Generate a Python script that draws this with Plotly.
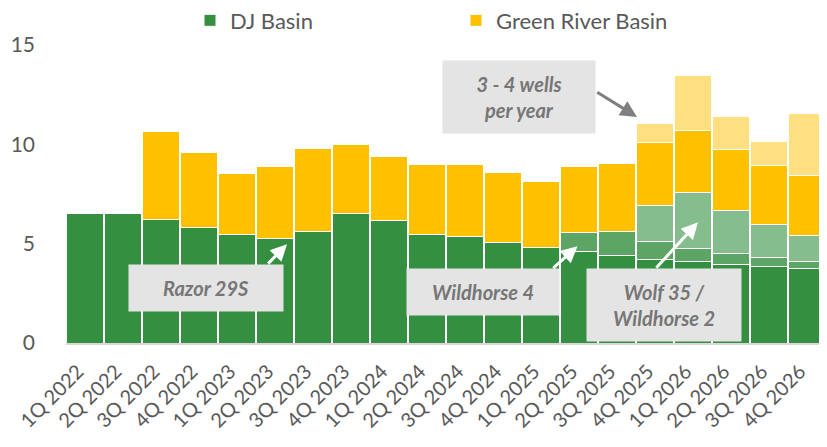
import plotly.graph_objects as go

quarters = ["1Q 2022", "2Q 2022", "3Q 2022", "4Q 2022", "1Q 2023", "2Q 2023", "3Q 2023", "4Q 2023",
            "1Q 2024", "2Q 2024", "3Q 2024", "4Q 2024", "1Q 2025", "2Q 2025", "3Q 2025", "4Q 2025",
            "1Q 2026", "2Q 2026", "3Q 2026", "4Q 2026"]

dj_base = [6.52, 6.52, 6.22, 5.83, 5.44, 5.26, 5.63, 6.53, 6.15, 5.44, 5.38, 5.06, 4.81, 4.61, 4.42, 4.22,
           4.12, 3.97, 3.84, 3.75]
dj_wildhorse4 = [0, 0, 0, 0, 0, 0, 0, 0, 0, 0, 0, 0, 0, 0.97, 1.21, 0.91, 0.64, 0.52, 0.47, 0.34]
dj_wolf35 = [0, 0, 0, 0, 0, 0, 0, 0, 0, 0, 0, 0, 0, 0, 0, 1.79, 2.81, 2.19, 1.65, 1.34]
green_river = [0, 0, 4.42, 3.77, 3.09, 3.63, 4.17, 3.47, 3.26, 3.52, 3.58, 3.52, 3.33, 3.31, 3.40, 3.16,
               3.13, 3.07, 2.95, 2.98]
green_river_new = [0, 0, 0, 0, 0, 0, 0, 0, 0, 0, 0, 0, 0, 0, 0, 0.96, 2.77, 1.66, 1.22, 3.13]

C_DJ = "#348F41"
C_DJ2 = "#5DA565"
C_DJ3 = "#85BD8F"
C_GR = "#FFC000"
C_GR2 = "#FFDF80"
TXT = "#595959"
FONT = "Lato"

fig = go.Figure()
series = [
    ("DJ Basin", dj_base, C_DJ, True),
    ("Wildhorse 4", dj_wildhorse4, C_DJ2, False),
    ("Wolf 35 / Wildhorse 2", dj_wolf35, C_DJ3, False),
    ("Green River Basin", green_river, C_GR, True),
    ("3 - 4 wells per year", green_river_new, C_GR2, False),
]
for name, vals, col, leg in series:
    fig.add_trace(go.Bar(x=quarters, y=vals, name=name, marker=dict(color=col, line=dict(color="white", width=1)),
                         showlegend=leg))

# page offset of the figure (default body margin) and target plot area in page pixels
OFF = 8
PAGE_W, PAGE_H = 827, 447
L, R, T, B = 66, 826, 44.5, 343
W, H = R - L, B - T


def px(x):
    return (x - L) / W


def py(y):
    return (B - y) / H


boxes = [
    ("<b><i>Razor 29S</i></b>", 129, 283, 265, 311),
    ("<b><i>Wildhorse 4</i></b>", 407, 559, 269, 315),
    ("<b><i>Wolf 35 /<br>Wildhorse 2</i></b>", 587, 741, 269, 341),
    ("<b><i>3 - 4 wells<br>per year</i></b>", 443, 595, 61, 133),
]
for text, x0, x1, y0, y1 in boxes:
    fig.add_annotation(text=text, xref="paper", yref="paper", x=px((x0 + x1) / 2), y=py((y0 + y1) / 2),
                       xanchor="center", yanchor="middle", showarrow=False, width=x1 - x0, height=y1 - y0,
                       bgcolor="#E4E4E4", borderpad=0, font=dict(family=FONT, size=20, color="#767676"))

arrows = [
    (266.7, 265, 287, 244, "white"),
    (551.7, 269.3, 577.5, 246, "white"),
    (655, 269, 698, 222, "white"),
    (595.7, 91, 637, 116.5, "#7F7F7F"),
]
for tx, ty, hx, hy, col in arrows:
    fig.add_annotation(text="", xref="paper", yref="paper", x=px(hx), y=py(hy), ax=tx - hx, ay=ty - hy,
                       showarrow=True, arrowhead=2, arrowsize=1.1, arrowwidth=3, arrowcolor=col)

fig.update_layout(
    width=PAGE_W - OFF, height=PAGE_H - OFF,
    margin=dict(l=L - OFF, r=PAGE_W - R, t=T - OFF, b=PAGE_H - B, autoexpand=False),
    barmode="stack", bargap=0.03,
    plot_bgcolor="white", paper_bgcolor="white",
    font=dict(family=FONT, size=21, color=TXT),
    legend=dict(orientation="h", x=px(190), xanchor="left", y=py(20), yanchor="middle", traceorder="normal",
                font=dict(size=22, color=TXT), entrywidth=221, entrywidthmode="pixels",
                bgcolor="rgba(0,0,0,0)"),
    xaxis=dict(tickangle=-45, showline=True, linecolor="#D9D9D9", linewidth=2, ticks="", automargin=False,
               ticklabelstandoff=7, ticklabelshift=-7,
               tickfont=dict(size=20, color=TXT)),
    yaxis=dict(range=[0, 15], tickvals=[0, 5, 10, 15], showgrid=False, zeroline=False, showline=False,
               automargin=False, ticklabelstandoff=30, tickfont=dict(size=21, color=TXT)),
)

fig.write_html("out.html")
